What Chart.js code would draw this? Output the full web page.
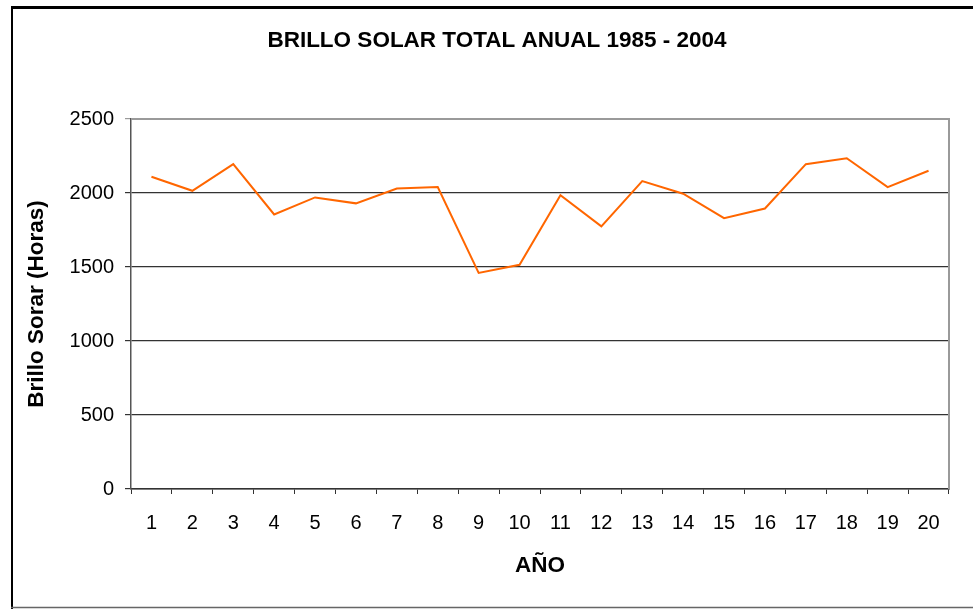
<!DOCTYPE html>
<html>
<head>
<meta charset="utf-8">
<title>Brillo solar total anual 1985 - 2004</title>
<script src="https://cdn.jsdelivr.net/npm/chart.js@4/dist/chart.umd.min.js"></script>
<style>
  html, body { margin: 0; padding: 0; background: #fff; }
  #wrap { width: 973px; height: 609px; }
</style>
</head>
<body>
<div id="wrap"><canvas id="brillo" width="973" height="609"></canvas></div>
<script>
// datos
const anios = ['1', '2', '3', '4', '5', '6', '7', '8', '9', '10',
               '11', '12', '13', '14', '15', '16', '17', '18', '19', '20'];
const horas = [2110, 2015, 2195, 1855, 1970, 1930, 2030, 2040, 1460, 1515,
               1985, 1775, 2080, 1995, 1830, 1895, 2195, 2235, 2040, 2150];
const yTicks = [0, 500, 1000, 1500, 2000, 2500];

const FUENTE = "Arial, 'Liberation Sans', sans-serif";
const PAD_IZQ = 45;   // corre el titulo un poco a la derecha, como en el original

// marco exterior + borde gris arriba/derecha del area de trazado
const marco = {
    id: 'marco',
    beforeDraw(chart) {
        const c = chart.ctx;
        c.save();
        c.fillStyle = '#fff';
        c.fillRect(0, 0, chart.width, chart.height);
        c.strokeStyle = '#000';
        c.lineWidth = 3;
        c.beginPath();
        c.moveTo(11, 7.5);
        c.lineTo(chart.width, 7.5);
        c.stroke();
        c.lineWidth = 2;
        c.beginPath();
        c.moveTo(12, 7);
        c.lineTo(12, chart.height);
        c.stroke();
        c.strokeStyle = '#666';
        c.lineWidth = 1.5;
        c.beginPath();
        c.moveTo(11, 607.5);
        c.lineTo(chart.width, 607.5);
        c.stroke();
        c.restore();
    },
    beforeDatasetsDraw(chart) {
        const a = chart.chartArea;
        const c = chart.ctx;
        c.save();
        c.strokeStyle = '#9a9a9a';
        c.lineWidth = 2;
        c.beginPath();
        c.moveTo(a.left, a.top);
        c.lineTo(a.right, a.top);
        c.lineTo(a.right, a.bottom);
        c.stroke();
        c.restore();
    }
};

const ctx = document.getElementById('brillo').getContext('2d');
new Chart(ctx, {
    type: 'line',
    data: {
        labels: anios,
        datasets: [{
            label: 'Brillo solar',
            data: horas,
            borderColor: '#FF6600',
            borderWidth: 2,
            pointRadius: 0,
            tension: 0,
            fill: false
        }]
    },
    options: {
        responsive: false,
        animation: false,
        layout: { padding: { left: PAD_IZQ, top: 0, right: 24, bottom: 0 } },
        plugins: {
            legend: { display: false },
            tooltip: { enabled: false },
            title: {
                display: true,
                text: 'BRILLO SOLAR TOTAL ANUAL 1985 - 2004',
                color: '#000',
                font: { family: FUENTE, size: 22.5, weight: 'bold' },
                padding: { top: 27, bottom: 65 }
            }
        },
        scales: {
            x: {
                offset: true,
                grid: {
                    offset: true,
                    drawOnChartArea: false,
                    tickLength: 5,
                    color: '#333'
                },
                border: { color: '#333', width: 1.5 },
                ticks: {
                    color: '#000',
                    font: { family: FUENTE, size: 20 },
                    padding: 17,
                    maxRotation: 0,
                    autoSkip: false
                },
                title: {
                    display: true,
                    text: 'AÑO',
                    color: '#000',
                    font: { family: FUENTE, size: 22.5, weight: 'bold' },
                    padding: { top: 0, bottom: 29.5 }
                },
                afterFit(scale) { scale.height = 120; }
            },
            y: {
                min: 0,
                max: 2500,
                afterBuildTicks(scale) {
                    scale.ticks = yTicks.map(v => ({ value: v }));
                },
                grid: {
                    tickLength: 6,
                    lineWidth: 1.2,
                    color: c => (c.tick && c.tick.value === 2500) ? '#9a9a9a' : '#333'
                },
                border: { color: '#555', width: 1.5 },
                ticks: {
                    color: '#000',
                    font: { family: FUENTE, size: 20 },
                    padding: 11,
                    callback: v => String(v)
                },
                title: {
                    display: true,
                    text: 'Brillo Sorar (Horas)',
                    color: '#000',
                    font: { family: FUENTE, size: 22.5, weight: 'bold' },
                    padding: { top: 36.7 - 13.5 - PAD_IZQ, bottom: 0 }
                },
                afterFit(scale) { scale.width = 131 - PAD_IZQ; }
            }
        }
    },
    plugins: [marco]
});
</script>
</body>
</html>
